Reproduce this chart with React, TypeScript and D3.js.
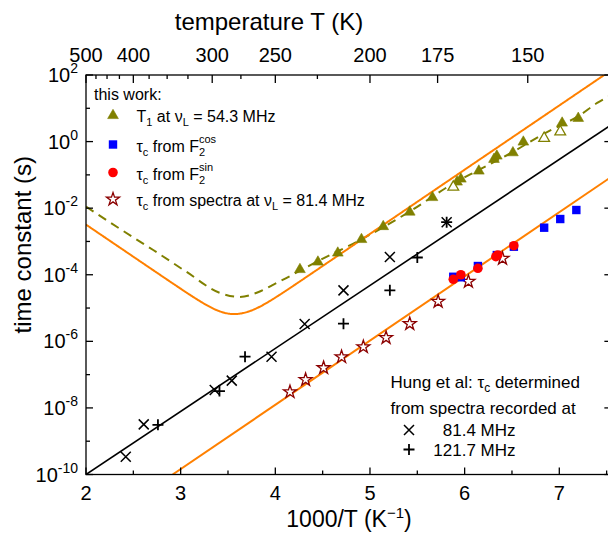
import React from 'react';
import * as d3 from 'd3';

// ---------- data (x = 1000/T in 1/K, values in s) ----------
const t1X = [4.26, 4.45, 4.66, 4.91, 5.14, 5.42, 5.66, 5.92, 5.96, 6.15, 6.31, 6.34, 6.51, 6.62, 7.03, 7.20];
const t1Val = [1.54e-4, 2.59e-4, 4.82e-4, 1.23e-3, 3.01e-3, 8.2e-3, 2.24e-2, 6.55e-2, 8.05e-2, 0.14, 0.315, 0.395, 0.497, 1.04, 3.87, 5.36];
const t1OpenX = [5.88, 6.84, 7.01];
const t1OpenVal = [4.63e-2, 1.35, 2.12];
const cosX = [5.88, 5.96, 6.14, 6.34, 6.52, 6.84, 7.01, 7.18];
const cosVal = [8.7e-5, 8.4e-5, 1.83e-4, 3.9e-4, 6.95e-4, 2.59e-3, 4.72e-3, 8.8e-3];
const sinX = [5.88, 5.96, 6.14, 6.33, 6.35, 6.52];
const sinVal = [7.3e-5, 1.0e-4, 1.56e-4, 3.48e-4, 3.92e-4, 7.45e-4];
const specX = [4.155, 4.32, 4.51, 4.70, 4.93, 5.17, 5.42, 5.72, 6.04, 6.40];
const specVal = [3.2e-8, 7.4e-8, 1.69e-7, 3.6e-7, 7.2e-7, 1.35e-6, 3.55e-6, 1.66e-5, 6.6e-5, 3.25e-4];
const hung81X = [2.42, 2.61, 3.36, 3.54, 3.96, 4.31, 4.72, 5.21, 5.81];
const hung81Val = [3.4e-10, 3.2e-9, 3.45e-8, 6.6e-8, 3.45e-7, 3.3e-6, 3.4e-5, 3.4e-4, 3.8e-3];
const hung121X = [2.76, 3.41, 3.68, 4.72, 5.21, 5.50, 5.81];
const hung121Val = [3.1e-9, 3.2e-8, 3.45e-7, 3.4e-6, 3.4e-5, 3.3e-4, 3.8e-3];

// Arrhenius fit lines (end points)
const blackFitX = [2, 7.55];
const blackFitVal = [1e-10, 3.2];
const orangeFitX = [2.915, 7.55];
const orangeFitVal = [1e-10, 8.73e-2];

// dashed T1 guide curve
const oliveX = [2.0, 2.35, 2.71, 3.06, 3.41, 3.62, 3.83, 3.97, 4.11, 4.45, 4.9, 5.42, 5.88, 6.15, 6.51, 6.84, 7.22, 7.4, 7.55];
const oliveVal = [1.11e-2, 2.48e-3, 5.53e-4, 1.23e-4, 2.88e-5, 2.16e-5, 3.09e-5, 4.9e-5, 7.82e-5, 2.57e-4, 1.12e-3, 7.94e-3, 5.5e-2, 0.141, 0.49, 1.74, 6.31, 14.5, 25.1];

// BPP model parameters for the orange T1 curve
const larmorHz = 54.3e6;
const quadCoupling = 3.63e13;

// axis ticks
const bottomMajor = [2, 3, 4, 5, 6, 7];
const bottomMinor = [2.5, 3.5, 4.5, 5.5, 6.5, 7.5];
const topMajorT = [500, 400, 300, 250, 200, 175, 150];
const topMinorT = [475, 450, 425, 375, 350, 325, 275, 225];
const yExponents = d3.range(-10, 3);

// ---------- layout ----------
const W = 608, H = 533;
const PL = 86, PT = 75, PB = 474.5;
const X0 = 2, X1 = 7.55;
const PR = PL + (X1 - X0) * 94.66;
const FONT = "'Liberation Sans', Arial, Helvetica, sans-serif";
const OLIVE = '#808000';
const ORANGE = '#ff8000';
const STAR = '#8b0000';

const x = d3.scaleLinear().domain([X0, X1]).range([PL, PR]);
const y = d3.scaleLog().domain([1e-10, 1e2]).range([PB, PT]);

const tri = d3.symbol().type(d3.symbolTriangle).size(50)();
const star = d3.symbol().type(d3.symbolStar).size(52)();

function Tri({ cx, cy, open }: { cx: number; cy: number; open?: boolean }) {
  return (
    <path d={tri as string} transform={`translate(${cx},${cy + 1})`}
      fill={open ? '#fff' : OLIVE} stroke={OLIVE} strokeWidth={open ? 1.3 : 0.6} />
  );
}
function Sq({ cx, cy }: { cx: number; cy: number }) {
  return <rect x={cx - 4.2} y={cy - 4.2} width={8.4} height={8.4} fill="#0000ff" />;
}
function Dot({ cx, cy }: { cx: number; cy: number }) {
  return <circle cx={cx} cy={cy} r={4.8} fill="#ff0000" />;
}
function Star({ cx, cy }: { cx: number; cy: number }) {
  return <path d={star as string} transform={`translate(${cx},${cy + 0.8})`} fill="#fff" stroke={STAR} strokeWidth={1.3} />;
}
function Cross({ cx, cy }: { cx: number; cy: number }) {
  const s = 5;
  return (
    <path d={`M${cx - s},${cy - s}L${cx + s},${cy + s}M${cx - s},${cy + s}L${cx + s},${cy - s}`} stroke="#000" strokeWidth={1.5} fill="none" />
  );
}
function Plus({ cx, cy }: { cx: number; cy: number }) {
  const s = 5.5;
  return (
    <path d={`M${cx - s},${cy}L${cx + s},${cy}M${cx},${cy - s}L${cx},${cy + s}`} stroke="#000" strokeWidth={1.8} fill="none" />
  );
}

export default function App() {
  const logLine = (xs: number[], vs: number[]) => {
    const s = d3.scaleLinear().domain(xs).range(vs.map(Math.log10));
    return (xx: number) => Math.pow(10, s(xx));
  };
  const blackTau = logLine(blackFitX, blackFitVal);
  const orangeTau = logLine(orangeFitX, orangeFitVal);

  const line = d3.line<[number, number]>().x(d => x(d[0])).y(d => y(d[1]));
  const blackPath = line([[X0, blackTau(X0)], [X1, blackTau(X1)]]);
  const orangePath = line([[orangeFitX[0], orangeFitVal[0]], [X1, orangeTau(X1)]]);

  const omega = 2 * Math.PI * larmorHz;
  const bppPts: [number, number][] = d3.range(X0, X1 + 0.001, 0.01).map(xx => {
    const tau = orangeTau(xx);
    const w2 = omega * omega * tau * tau;
    const J = tau / (1 + w2) + (4 * tau) / (1 + 4 * w2);
    return [xx, 1 / (quadCoupling * J)];
  });
  const bppPath = line(bppPts);

  const olivePath = d3.line<[number, number]>().x(d => x(d[0])).y(d => y(d[1])).curve(d3.curveMonotoneX)(
    oliveX.map((v, i) => [v, oliveVal[i]] as [number, number])
  );

  const txt = { fontFamily: FONT, whiteSpace: 'pre' as const };

  return (
    <svg width={W} height={H} style={{ position: 'absolute', left: 0, top: 0, background: '#fff' }}>
      <defs>
        <clipPath id="plotClip">
          <rect x={PL} y={PT} width={PR - PL} height={PB - PT} />
        </clipPath>
      </defs>
      <rect x={0} y={0} width={W} height={H} fill="#fff" />

      {/* fit lines */}
      <g clipPath="url(#plotClip)" fill="none">
        <path d={olivePath as string} stroke={OLIVE} strokeWidth={2} strokeDasharray="9,6" />
        <path d={bppPath as string} stroke={ORANGE} strokeWidth={2} />
        <path d={orangePath as string} stroke={ORANGE} strokeWidth={2} />
        <path d={blackPath as string} stroke="#000" strokeWidth={1.6} />
      </g>

      {/* data */}
      <g>
        {t1X.map((v, i) => <Tri key={'t' + i} cx={x(v)} cy={y(t1Val[i])} />)}
        {t1OpenX.map((v, i) => <Tri key={'to' + i} cx={x(v)} cy={y(t1OpenVal[i])} open />)}
        {specX.map((v, i) => <Star key={'s' + i} cx={x(v)} cy={y(specVal[i])} />)}
        {cosX.map((v, i) => <Sq key={'c' + i} cx={x(v)} cy={y(cosVal[i])} />)}
        {sinX.map((v, i) => <Dot key={'d' + i} cx={x(v)} cy={y(sinVal[i])} />)}
        {hung81X.map((v, i) => <Cross key={'x' + i} cx={x(v)} cy={y(hung81Val[i])} />)}
        {hung121X.map((v, i) => <Plus key={'p' + i} cx={x(v)} cy={y(hung121Val[i])} />)}
      </g>

      {/* frame */}
      <g stroke="#000" strokeWidth={1.3} fill="none">
        <rect x={PL} y={PT} width={PR - PL} height={PB - PT} />
        {bottomMajor.map(v => <line key={'bm' + v} x1={x(v)} x2={x(v)} y1={PB} y2={PB - 7} />)}
        {bottomMinor.map(v => <line key={'bn' + v} x1={x(v)} x2={x(v)} y1={PB} y2={PB - 4} />)}
        {topMajorT.map(t => <line key={'tm' + t} x1={x(1000 / t)} x2={x(1000 / t)} y1={PT} y2={PT + 8} />)}
        {topMinorT.map(t => <line key={'tn' + t} x1={x(1000 / t)} x2={x(1000 / t)} y1={PT} y2={PT + 4} />)}
        {yExponents.map(k => (
          <line key={'ly' + k} x1={PL} x2={PL + (k % 2 === 0 ? 7 : 4)} y1={y(Math.pow(10, k))} y2={y(Math.pow(10, k))} />
        ))}
        {yExponents.filter(k => k % 2 === 0).map(k => (
          <line key={'ry' + k} x1={PR} x2={PR - 7} y1={y(Math.pow(10, k))} y2={y(Math.pow(10, k))} />
        ))}
      </g>

      {/* tick labels */}
      <g style={txt} fill="#000">
        {bottomMajor.map(v => (
          <text key={'bl' + v} x={x(v)} y={500} fontSize={20} textAnchor="middle">{v}</text>
        ))}
        {topMajorT.map(t => (
          <text key={'tl' + t} x={x(1000 / t)} y={62} fontSize={20} textAnchor="middle">{t}</text>
        ))}
        {yExponents.filter(k => k % 2 === 0).map(k => (
          <text key={'yl' + k} x={78} y={y(Math.pow(10, k)) + 7} fontSize={20} textAnchor="end">
            10<tspan fontSize={14} dy={-9}>{k < 0 ? '-' + Math.abs(k) : String(k)}</tspan>
          </text>
        ))}
      </g>

      {/* axis titles */}
      <g style={txt} fill="#000">
        <text x={269} y={30} fontSize={24} textAnchor="middle">temperature T (K)</text>
        <text x={349} y={527} fontSize={23} textAnchor="middle">
          1000/T (K<tspan fontSize={15} dy={-9}>−1</tspan><tspan dy={9}>)</tspan>
        </text>
        <text transform={`translate(31,${(PT + PB) / 2 - 30}) rotate(-90)`} fontSize={24} textAnchor="middle">time constant (s)</text>
      </g>

      {/* legend: this work */}
      <g style={txt} fill="#000" fontSize={16}>
        <text x={94} y={100}>this work:</text>
        <Tri cx={113} cy={114.5} />
        <text x={136.5} y={121.5}>
          <tspan>T</tspan><tspan fontSize={11} dy={4}>1</tspan><tspan dy={-4}>{' at ν'}</tspan>
          <tspan fontSize={11} dy={4}>L</tspan><tspan dy={-4}>{' = 54.3 MHz'}</tspan>
        </text>
        <Sq cx={113} cy={144.5} />
        <text x={136.5} y={151.5}>
          <tspan>τ</tspan><tspan fontSize={11} dy={4}>c</tspan><tspan dy={-4}>{' from F'}</tspan>
          <tspan fontSize={11} dy={-9}>cos</tspan><tspan fontSize={11} dx={-17.1} dy={13}>2</tspan>
        </text>
        <Dot cx={113} cy={172.5} />
        <text x={136.5} y={179.5}>
          <tspan>τ</tspan><tspan fontSize={11} dy={4}>c</tspan><tspan dy={-4}>{' from F'}</tspan>
          <tspan fontSize={11} dy={-9}>sin</tspan><tspan fontSize={11} dx={-14.1} dy={13}>2</tspan>
        </text>
        <Star cx={113} cy={198.5} />
        <text x={136.5} y={205.5}>
          <tspan>τ</tspan><tspan fontSize={11} dy={4}>c</tspan><tspan dy={-4}>{' from spectra at ν'}</tspan>
          <tspan fontSize={11} dy={4}>L</tspan><tspan dy={-4}>{' = 81.4 MHz'}</tspan>
        </text>
      </g>

      {/* legend: Hung et al */}
      <g style={txt} fill="#000" fontSize={17}>
        <text x={390.5} y={387.5}>
          <tspan>{'Hung et al: τ'}</tspan><tspan fontSize={12} dy={4}>c</tspan><tspan dy={-4}>{' determined'}</tspan>
        </text>
        <text x={390.5} y={413.5}>from spectra recorded at</text>
        <Cross cx={409} cy={430} />
        <text x={515.5} y={436} textAnchor="end">81.4 MHz</text>
        <Plus cx={409} cy={449.5} />
        <text x={515.5} y={455.5} textAnchor="end">121.7 MHz</text>
      </g>
    </svg>
  );
}
